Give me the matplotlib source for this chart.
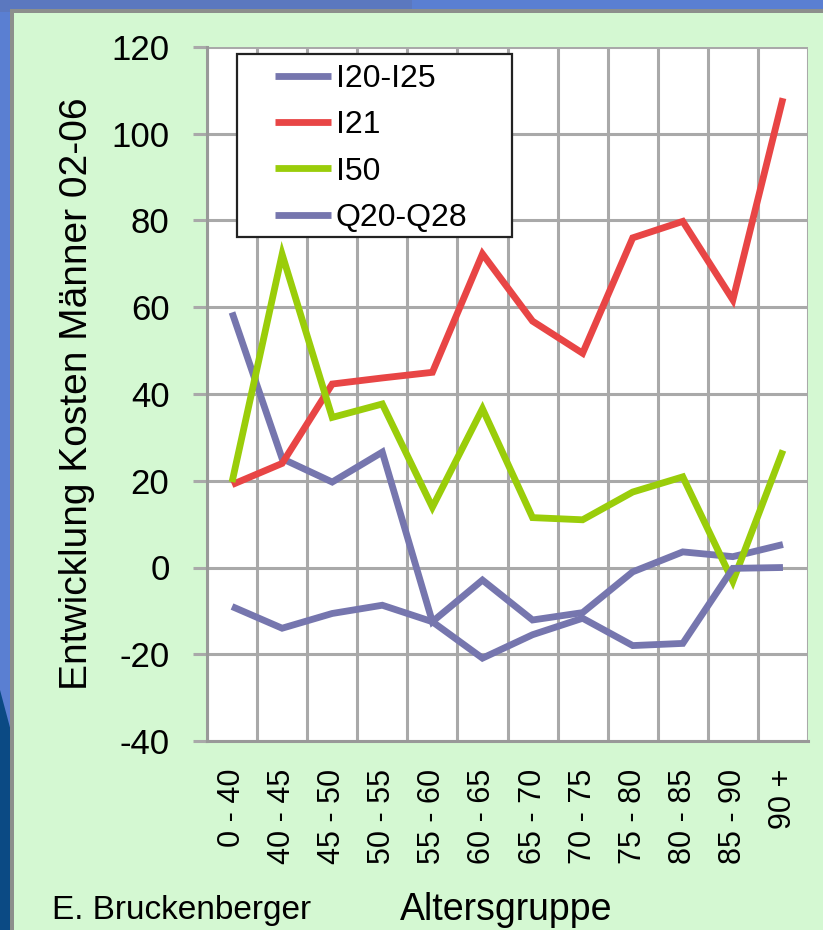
import matplotlib.pyplot as plt
from matplotlib.patches import Rectangle, Polygon

plt.rcParams["font.family"] = ["Liberation Sans", "DejaVu Sans"]
plt.rcParams["axes.unicode_minus"] = False

age_groups = ["0 - 40", "40 - 45", "45 - 50", "50 - 55", "55 - 60", "60 - 65",
              "65 - 70", "70 - 75", "75 - 80", "80 - 85", "85 - 90", "90 +"]

i20_i25 = [58.8, 25.1, 19.7, 26.6, -12.5, -2.9, -12.1, -10.4, -1.0, 3.6, 2.5, 5.3]
i21 = [19.1, 24.0, 42.3, 43.7, 45.0, 72.3, 56.8, 49.4, 76.0, 79.8, 61.7, 108.2]
i50 = [19.7, 72.2, 34.6, 37.7, 13.9, 36.6, 11.5, 11.0, 17.4, 20.9, -3.2, 27.0]
q20_q28 = [-9.0, -14.0, -10.6, -8.7, -12.5, -20.9, -15.5, -11.7, -18.0, -17.5, -0.2, 0.0]

series_names = ["I20-I25", "I21", "I50", "Q20-Q28"]
series_values = [i20_i25, i21, i50, q20_q28]
series_colors = ["#7676ae", "#e84545", "#9acd0a", "#7676ae"]

W, H = 823, 930
fig = plt.figure(figsize=(W / 100, H / 100), dpi=100)
fig.patch.set_facecolor("#5a7fd2")

# slide frame: blue strips, dark corner, grey edge, green panel
fig.patches.append(Rectangle((0, 1 - 12 / H), 0.5, 12 / H, transform=fig.transFigure,
                             facecolor="#5b78bf", edgecolor="none", zorder=-5))
fig.patches.append(Polygon([(0, 0), (0, 1 - 690 / H), (12 / W, 1 - 735 / H), (12 / W, 0)],
                           closed=True, transform=fig.transFigure,
                           facecolor="#0b4a84", edgecolor="none", zorder=-4))
fig.patches.append(Rectangle((10 / W, 0), 1, 1 - 9 / H, transform=fig.transFigure,
                             facecolor="#8c8f8c", edgecolor="none", zorder=-3))
fig.patches.append(Rectangle((14 / W, 0), 1, 1 - 13 / H, transform=fig.transFigure,
                             facecolor="#d4f8d2", edgecolor="none", zorder=-2))

ax = fig.add_axes([207 / W, 1 - 741 / H, 601 / W, 694 / H])
ax.set_facecolor("white")

x = list(range(len(age_groups)))
for name, vals, col in zip(series_names, series_values, series_colors):
    ax.plot(x, vals, color=col, lw=4.9, label=name, solid_capstyle="butt",
            solid_joinstyle="miter", zorder=3)

ax.set_xlim(-0.5, len(age_groups) - 0.5)
ax.set_ylim(-40, 120)
ax.set_yticks(range(-40, 121, 20))
ax.set_xticks(x)
ax.set_xticklabels(age_groups, rotation=90, fontsize=22, va="top", ha="center")
ax.set_xticks([i - 0.5 for i in range(len(age_groups) + 1)], minor=True)

grid_col = "#a9a9a9"
ax.grid(True, which="minor", axis="x", color=grid_col, lw=2.2, zorder=1)
ax.grid(True, which="major", axis="y", color=grid_col, lw=2.2, zorder=1)
ax.tick_params(axis="x", which="both", length=0, pad=20)
ax.tick_params(axis="y", length=10, width=2.2, color=grid_col, pad=17, labelsize=25)
for side in ("top", "right"):
    ax.spines[side].set_visible(False)
for side in ("left", "bottom"):
    ax.spines[side].set_color("#999999")
    ax.spines[side].set_linewidth(2.2)

ax.set_ylabel("Entwicklung Kosten Männer 02-06", fontsize=28)
ax.yaxis.set_label_coords(-0.186, 0.5)

fig.text(400 / W, 1 - 910 / H, "Altersgruppe", fontsize=27, ha="left", va="center")
fig.text(52 / W, 1 - 910 / H, "E. Bruckenberger", fontsize=24, ha="left", va="center")

# legend frame drawn separately so its padding can be uneven
ax.add_patch(Rectangle((0.050, 0.726), 0.4575, 0.264, transform=ax.transAxes,
                       facecolor="white", edgecolor="#222222", lw=1.6, zorder=4))
leg = ax.legend(loc="upper left", bbox_to_anchor=(0.113, 0.9755),
                fontsize=23, frameon=False, handlelength=1.75,
                handletextpad=0.15, borderpad=0, labelspacing=0.51,
                borderaxespad=0)
leg.set_zorder(5)

fig.savefig("out.png", dpi=100)
